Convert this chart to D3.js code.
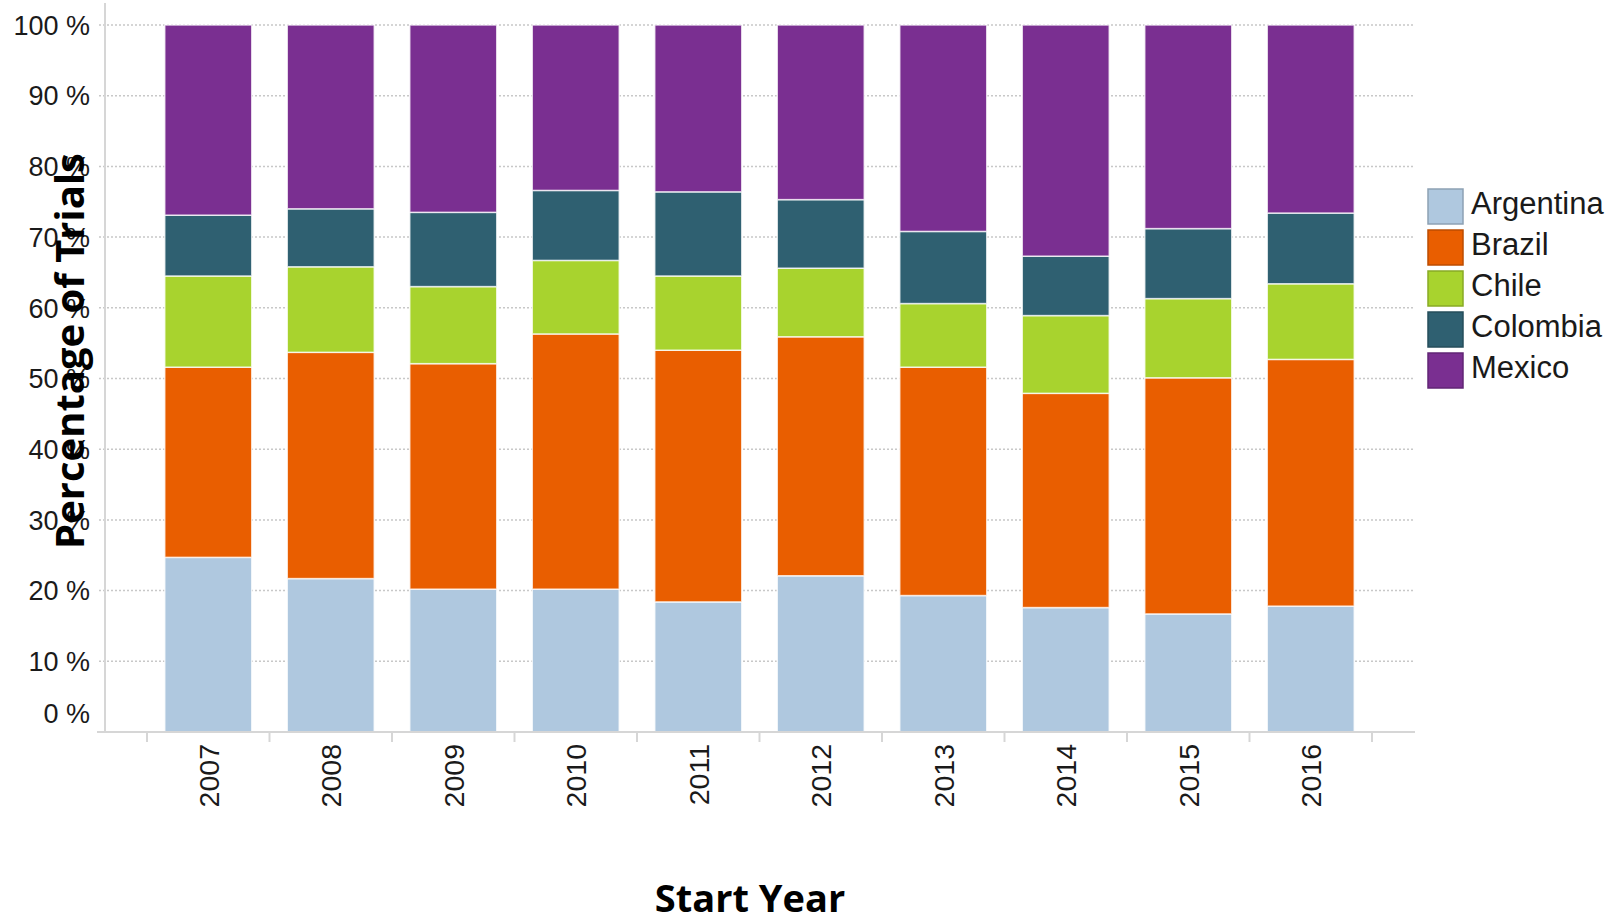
<!DOCTYPE html>
<html>
<head>
<meta charset="utf-8">
<script src="https://cdnjs.cloudflare.com/ajax/libs/d3/7.8.5/d3.min.js"></script>
<style>
  body { margin: 0; background: #fff; }
  svg { display: block; }
</style>
</head>
<body>
<script>
// data (percent of trials per country, by start year)
var years = ["2007", "2008", "2009", "2010", "2011", "2012", "2013", "2014", "2015", "2016"];
var countries = ["Argentina", "Brazil", "Chile", "Colombia", "Mexico"];

var argentina = [24.7, 21.7, 20.2, 20.2, 18.4, 22.1, 19.3, 17.6, 16.7, 17.8];
var brazil    = [26.9, 32.0, 31.9, 36.1, 35.6, 33.8, 32.3, 30.3, 33.4, 34.9];
var chile     = [12.9, 12.1, 10.9, 10.4, 10.5,  9.7,  9.0, 11.0, 11.2, 10.7];
var colombia  = [ 8.6,  8.2, 10.5,  9.9, 11.9,  9.7, 10.2,  8.4,  9.9, 10.0];
var mexico    = [26.9, 26.0, 26.5, 23.4, 23.6, 24.7, 29.2, 32.7, 28.8, 26.6];

var yTicks = [0, 10, 20, 30, 40, 50, 60, 70, 80, 90, 100];
var colors = ["#afc8df", "#e95e00", "#a8d32e", "#2f6071", "#7a2f91"];

// build rows for d3.stack
var table = years.map(function (y, i) {
  return {
    year: y,
    Argentina: argentina[i],
    Brazil: brazil[i],
    Chile: chile[i],
    Colombia: colombia[i],
    Mexico: mexico[i]
  };
});

var stacked = d3.stack()
  .keys(countries)
  .offset(d3.stackOffsetExpand)(table);

var width = 1624, height = 923;

var svg = d3.select("body").append("svg")
  .attr("width", width)
  .attr("height", height);

var x = d3.scaleBand()
  .domain(years)
  .range([147, 1372])
  .paddingInner(0.29)
  .paddingOuter(0.145);

var y = d3.scaleLinear()
  .domain([0, 1])
  .range([732, 25]);

var color = d3.scaleOrdinal().domain(countries).range(colors);

var font = "'Liberation Sans', Arial, sans-serif";

// dotted grid lines
svg.append("g")
  .selectAll("line")
  .data(yTicks.slice(1))
  .enter()
  .append("line")
  .attr("x1", 99)
  .attr("x2", 1413)
  .attr("y1", function (d) { return y(d / 100); })
  .attr("y2", function (d) { return y(d / 100); })
  .attr("stroke", "#c8c8c8")
  .attr("stroke-width", 1.5)
  .attr("stroke-dasharray", "2,2");

// y tick labels
svg.append("g")
  .selectAll("text")
  .data(yTicks)
  .enter()
  .append("text")
  .attr("x", 90)
  .attr("y", function (d) { return d === 0 ? y(0) - 19 : y(d / 100); })
  .attr("dy", "0.36em")
  .attr("text-anchor", "end")
  .style("font-family", font)
  .style("font-size", "27px")
  .style("fill", "#1a1a1a")
  .text(function (d) { return d + " %"; });

// bars
var layers = svg.append("g")
  .selectAll("g")
  .data(stacked)
  .enter()
  .append("g")
  .attr("fill", function (d) { return color(d.key); });

layers.selectAll("rect")
  .data(function (d) { return d; })
  .enter()
  .append("rect")
  .attr("x", function (d) { return x(d.data.year); })
  .attr("width", x.bandwidth())
  .attr("y", function (d) { return y(d[1]); })
  .attr("height", function (d) { return y(d[0]) - y(d[1]); })
  .attr("stroke", "#ffffff")
  .attr("stroke-opacity", 0.75)
  .attr("stroke-width", 1.5);

// axis lines
svg.append("line")
  .attr("x1", 105).attr("x2", 105)
  .attr("y1", 3).attr("y2", 733)
  .attr("stroke", "#d6d6d6")
  .attr("stroke-width", 2);

svg.append("line")
  .attr("x1", 97).attr("x2", 1415)
  .attr("y1", 732).attr("y2", 732)
  .attr("stroke", "#d6d6d6")
  .attr("stroke-width", 2);

// x ticks at band boundaries
var step = x.step();
var bounds = years.map(function (d) { return x(d) - x.paddingInner() * step / 2; });
bounds.push(bounds[bounds.length - 1] + step);

svg.append("g")
  .selectAll("line")
  .data(bounds)
  .enter()
  .append("line")
  .attr("x1", function (d) { return d; })
  .attr("x2", function (d) { return d; })
  .attr("y1", 732)
  .attr("y2", 742)
  .attr("stroke", "#d6d6d6")
  .attr("stroke-width", 2);

// year labels, rotated
svg.append("g")
  .selectAll("text")
  .data(years)
  .enter()
  .append("text")
  .attr("transform", function (d) {
    return "translate(" + (x(d) + x.bandwidth() / 2) + ",744) rotate(-90)";
  })
  .attr("dy", "0.36em")
  .attr("text-anchor", "end")
  .style("font-family", font)
  .style("font-size", "28.5px")
  .style("fill", "#1a1a1a")
  .text(function (d) { return d; });

// axis titles
svg.append("text")
  .attr("transform", "translate(84,351) rotate(-90)")
  .attr("text-anchor", "middle")
  .style("font-family", "'Open Sans', sans-serif")
  .style("font-weight", "bold")
  .style("font-size", "40px")
  .style("fill", "#000")
  .text("Percentage of Trials");

svg.append("text")
  .attr("x", 750)
  .attr("y", 912)
  .attr("text-anchor", "middle")
  .style("font-family", "'Open Sans', sans-serif")
  .style("font-weight", "bold")
  .style("font-size", "38px")
  .style("fill", "#000")
  .text("Start Year");

// legend
var legend = svg.append("g")
  .selectAll("g")
  .data(countries)
  .enter()
  .append("g")
  .attr("transform", function (d, i) { return "translate(1428," + (189 + i * 41) + ")"; });

legend.append("rect")
  .attr("width", 35)
  .attr("height", 35)
  .attr("fill", function (d) { return color(d); })
  .attr("stroke", function (d) { return d3.color(color(d)).darker(0.6); })
  .attr("stroke-width", 1.5);

legend.append("text")
  .attr("x", 43)
  .attr("y", 14)
  .attr("dy", "0.36em")
  .style("font-family", font)
  .style("font-size", "31px")
  .style("fill", "#1a1a1a")
  .text(function (d) { return d; });
</script>
</body>
</html>
